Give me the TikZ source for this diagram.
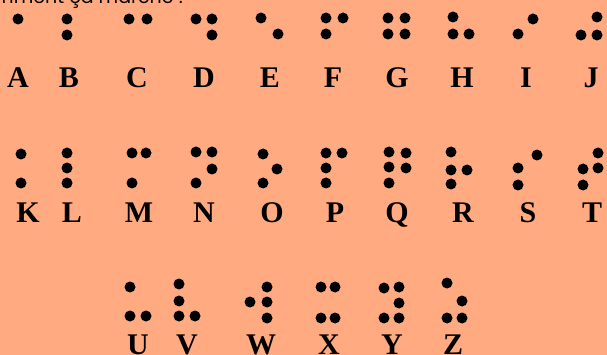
\documentclass[tikz,border=0pt]{standalone}
\usepackage{fontspec}
\setmainfont{Liberation Serif}
\newfontfamily\titlefont{Poppins}
\usepackage{xcolor}
\definecolor{peach}{HTML}{FFAA80}

\begin{document}
\begin{tikzpicture}[x=1pt, y=-1pt,
  dot/.style={fill=black, radius=5.5pt},
  letter/.style={anchor=base, inner sep=0pt, font=\fontsize{30}{30}\selectfont\bfseries}]
\useasboundingbox (0,0) rectangle (607,355);
\fill[peach] (0,0) rectangle (607,355);
\node[anchor=base east, inner sep=0pt, font=\titlefont\fontsize{19}{19}\selectfont] (title) at (183,4) {Comment ça marche :};
% first row
\fill[dot] (18,19) circle[];
\node[letter] (A) at (18,88) {A};
\fill[dot] (67,19) circle[] (67,35) circle[];
\node[letter] (B) at (69,88) {B};
\fill[dot] (129,19) circle[] (147,19) circle[];
\node[letter] (C) at (137,88) {C};
\fill[dot] (196,19) circle[] (212,19) circle[] (212,35) circle[];
\node[letter] (D) at (204,88) {D};
\fill[dot] (261,18) circle[] (278,34) circle[];
\node[letter] (E) at (270,88) {E};
\fill[dot] (326,18) circle[] (343,18) circle[] (326,34) circle[];
\node[letter] (F) at (333,88) {F};
\fill[dot] (388,18) circle[] (405,18) circle[] (388,34) circle[] (405,34) circle[];
\node[letter] (G) at (397,88) {G};
\fill[dot] (453,17) circle[] (453,34) circle[] (469,34) circle[];
\node[letter] (H) at (462,88) {H};
\fill[dot] (533,19) circle[] (518,34) circle[];
\node[letter] (I) at (526,88) {I};
\fill[dot] (597,17) circle[] (581,35) circle[] (597,35) circle[];
\node[letter] (J) at (591,88) {J};
% second row
\fill[dot] (21,154) circle[] (21,183) circle[];
\node[letter] (K) at (28,223) {K};
\fill[dot] (67,153) circle[] (67,168) circle[] (67,183) circle[];
\node[letter] (L) at (72,223) {L};
\fill[dot] (132,153) circle[] (146,153) circle[] (132,183) circle[];
\node[letter] (M) at (139,223) {M};
\fill[dot] (196,152) circle[] (212,152) circle[] (212,169) circle[] (196,183) circle[];
\node[letter] (N) at (204,223) {N};
\fill[dot] (263,154) circle[] (277,169) circle[] (263,183) circle[];
\node[letter] (O) at (272,223) {O};
\fill[dot] (326,153) circle[] (342,153) circle[] (326,168) circle[] (326,183) circle[];
\node[letter] (P) at (335,223) {P};
\fill[dot] (389,152) circle[] (406,153) circle[] (389,167) circle[] (406,168) circle[] (389,183) circle[];
\node[letter] (Q) at (397,223) {Q};
\fill[dot] (451,152) circle[] (451,170) circle[] (467,170) circle[] (451,184) circle[];
\node[letter] (R) at (463,223) {R};
\fill[dot] (537,155) circle[] (518,168) circle[] (518,185) circle[];
\node[letter] (S) at (528,223) {S};
\fill[dot] (598,153) circle[] (583,169) circle[] (598,168) circle[] (583,185) circle[];
\node[letter] (T) at (592,223) {T};
% third row
\fill[dot] (130,287) circle[] (130,316) circle[] (146,316) circle[];
\node[letter] (U) at (138,354) {U};
\fill[dot] (179,284) circle[] (179,301) circle[] (179,316) circle[] (195,316) circle[];
\node[letter] (V) at (187,354) {V};
\fill[dot] (267,287) circle[] (250,302) circle[] (267,302) circle[] (267,318) circle[];
\node[letter] (W) at (261,354) {W};
\fill[dot] (321,287) circle[] (335,287) circle[] (321,318) circle[] (335,318) circle[];
\node[letter] (X) at (329,354) {X};
\fill[dot] (384,288) circle[] (399,287) circle[] (399,303) circle[] (384,318) circle[] (399,318) circle[];
\node[letter] (Y) at (392,354) {Y};
\fill[dot] (447,283) circle[] (462,301) circle[] (447,318) circle[] (462,318) circle[];
\node[letter] (Z) at (453,354) {Z};
\end{tikzpicture}
\end{document}
